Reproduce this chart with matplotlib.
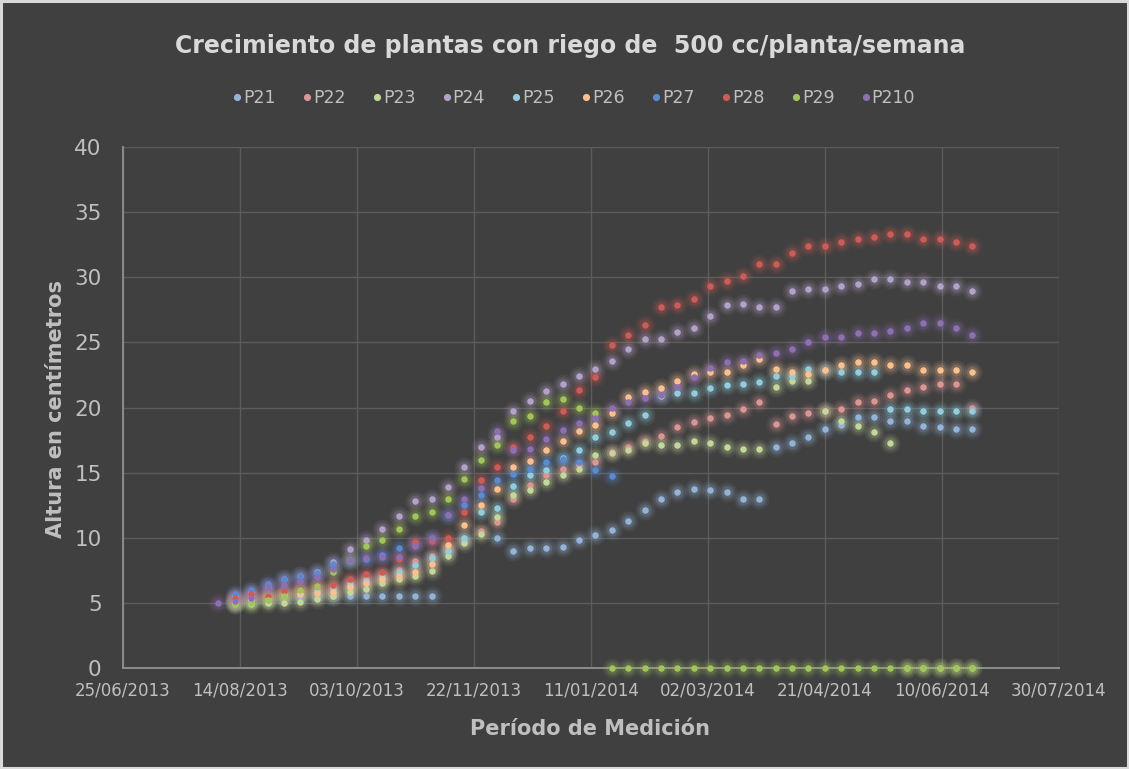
import numpy as np
import matplotlib
matplotlib.use('Agg')
import matplotlib.pyplot as plt
import matplotlib.dates as mdates
from matplotlib.patches import Rectangle
import pandas as pd

nan = np.nan

# Fechas de medición (semanales)
fechas = [
    "2013-08-05", "2013-08-12", "2013-08-19", "2013-08-26", "2013-09-02", "2013-09-09",
    "2013-09-16", "2013-09-23", "2013-09-30", "2013-10-07", "2013-10-14", "2013-10-21",
    "2013-10-28", "2013-11-04", "2013-11-11", "2013-11-18", "2013-11-25", "2013-12-02",
    "2013-12-09", "2013-12-16", "2013-12-23", "2013-12-30", "2014-01-06", "2014-01-13",
    "2014-01-20", "2014-01-27", "2014-02-03", "2014-02-10", "2014-02-17", "2014-02-24",
    "2014-03-03", "2014-03-10", "2014-03-17", "2014-03-24", "2014-03-31", "2014-04-07",
    "2014-04-14", "2014-04-21", "2014-04-28", "2014-05-05", "2014-05-12", "2014-05-19",
    "2014-05-26", "2014-06-02", "2014-06-09", "2014-06-16", "2014-06-23",
]

P21 = [nan, 5.2, 5.3, 5.4, 5.5, 5.5, 5.5, 5.5, 5.5, 5.5, 5.5, 5.5, 5.5, 5.5,
       nan, nan, nan,
       10.0, 9.0, 9.2, 9.25, 9.3, 9.8, 10.2, 10.6, 11.3, 12.1,
       12.95, 13.5, 13.75, 13.7, 13.5, 12.95, 12.95,
       16.95, 17.3, 17.7, 18.35, 18.65, 19.25, 19.25, 18.95, 18.95, 18.6, 18.5, 18.35, 18.35]

P22 = [nan, 5.3, 5.5, 5.55, 5.8, 6.0, 6.1, 6.3, 6.5, 6.8, 7.1,
       7.5, 8.2, 8.6, 9.1, 9.8, 10.5, 11.2, 12.95, 14.05, 14.8,
       15.3, 15.6, 15.85, 16.6, 17.0, 17.4, 17.85, 18.5, 18.9, 19.2,
       19.4, 19.85, 20.4, 18.7, 19.35, 19.55, 19.7, 19.9, 20.4, 20.5,
       20.95, 21.35, 21.55, 21.8, 21.8, 19.95]

P23 = [nan, 4.9, 4.95, 5.0, 5.0, 5.1, 5.3, 5.5, 5.8, 6.1, 6.5,
       6.8, 7.1, 7.45, 8.6, 9.6, 10.3, 11.6, 13.3, 13.7, 14.3,
       14.8, 15.25, 16.35, 16.5, 16.75, 17.3, 17.1, 17.1, 17.45, 17.25,
       16.95, 16.8, 16.8, 21.55, 22.0, 22.0, 19.75, 19.0, 18.6, 18.15,
       17.3, 0, 0, 0, 0, 0]

P24 = [nan, 5.5, 5.8, 6.2, 6.8, 7.1, 7.4, 8.1, 9.1, 9.8, 10.7,
       11.7, 12.8, 13.0, 13.9, 15.45, 16.95, 17.75, 19.75, 20.5, 21.25,
       21.8, 22.4, 22.95, 23.6, 24.5, 25.25, 25.25, 25.8, 26.1, 27.0,
       27.9, 27.93, 27.7, 27.7, 28.95, 29.1, 29.1, 29.3, 29.5, 29.9,
       29.9, 29.6, 29.6, 29.3, 29.3, 28.95]

P25 = [nan, 5.0, 5.2, 5.3, 5.5, 5.7, 5.9, 6.1, 6.4, 6.7, 7.0,
       7.4, 7.9, 8.45, 8.95, 10.0, 12.0, 12.3, 14.0, 14.8, 15.2,
       16.1, 16.7, 17.75, 18.15, 18.8, 19.4, 20.9, 21.1, 21.15, 21.5,
       21.7, 21.8, 21.95, 22.4, 22.4, 22.95, 22.9, 22.75, 22.75, 22.75,
       19.9, 19.9, 19.75, 19.75, 19.75, 19.7]

P26 = [nan, 5.1, 5.3, 5.5, 5.6, 5.7, 5.75, 5.8, 6.2, 6.55, 6.8,
       7.1, 7.4, 7.95, 9.45, 10.95, 12.5, 13.75, 15.4, 15.9, 16.75,
       17.4, 18.2, 18.65, 19.6, 20.8, 21.2, 21.5, 22.0, 22.55, 22.75,
       22.75, 23.3, 23.7, 22.95, 22.75, 22.6, 22.9, 23.3, 23.5, 23.5,
       23.3, 23.3, 22.9, 22.9, 22.9, 22.75]

P27 = [nan, 5.7, 6.0, 6.45, 6.8, 7.1, 7.3, 8.0, 8.2, 8.4, 8.7,
       9.2, 9.6, 10.0, 11.75, 12.5, 13.3, 14.4, 14.9, 15.3, 15.8,
       16.05, 15.8, 15.2, 14.75,
       nan, nan, nan, nan, nan, nan, nan, nan, nan, nan, nan,
       nan, nan, nan, nan, nan, nan, nan, nan, nan, nan, nan]

P28 = [nan, 5.35, 5.7, 5.55, 5.9, 6.1, 6.3, 6.4, 6.8, 7.2, 7.37,
       8.4, 9.64, 9.72, 10.0, 11.95, 14.4, 15.45, 16.95, 17.75, 18.6,
       19.7, 21.35, 22.35, 24.8, 25.6, 26.3, 27.7, 27.9, 28.3, 29.3,
       29.7, 30.1, 31.05, 31.05, 31.9, 32.4, 32.4, 32.7, 32.9, 33.1,
       33.3, 33.3, 32.9, 32.9, 32.7, 32.4]

P29 = [nan, 4.95, 5.0, 5.2, 5.5, 6.0, 6.3, 7.37, 8.3, 9.4, 9.8,
       10.7, 11.7, 12.0, 12.95, 14.5, 16.0, 17.1, 18.95, 19.35, 20.4,
       20.65, 19.95, 19.6,
       0, 0, 0, 0, 0, 0, 0, 0, 0, 0, 0, 0,
       0, 0, 0, 0, 0, 0, 0, 0, 0, 0, 0]

P210 = [5.0, 5.15, 5.4, 6.2, 6.4, 6.7, 7.0, 7.6, 8.3, 8.45, 8.5,
        8.5, 9.4, 10.0, 11.75, 13.0, 13.8, 18.2, 16.75, 16.8, 17.6,
        18.3, 18.8, 19.2, 20.0, 20.4, 20.75, 20.95, 21.6, 22.35, 23.0,
        23.5, 23.6, 24.0, 24.15, 24.5, 25.0, 25.4, 25.4, 25.7, 25.7,
        25.9, 26.1, 26.5, 26.5, 26.1, 25.6]

nombres = ["P21", "P22", "P23", "P24", "P25", "P26", "P27", "P28", "P29", "P210"]
valores = [P21, P22, P23, P24, P25, P26, P27, P28, P29, P210]
colores = ["#95b3d7", "#d99694", "#c3d69b", "#b3a2c7", "#93cddd",
           "#fac090", "#5a8ad0", "#cc5c58", "#a3c45c", "#8d70b0"]

titulo = "Crecimiento de plantas con riego de  500 cc/planta/semana"
etiqueta_x = "Período de Medición"
etiqueta_y = "Altura en centímetros"

FONT = ['DejaVu Sans']
plt.rcParams['font.family'] = FONT

W, H = 1129, 769
fig = plt.figure(figsize=(W / 100, H / 100), dpi=100)
fig.patch.set_facecolor('#404040')
fig.patches.append(Rectangle((1.2 / W, 1.2 / H), 1 - 2.4 / W, 1 - 2.4 / H,
                             transform=fig.transFigure, fill=False,
                             edgecolor='#d9d9d9', linewidth=2.2, zorder=10))

ax = fig.add_axes([122.5 / W, 1 - 668 / H, (1059 - 122.5) / W, (668 - 147) / H])
ax.set_facecolor('#404040')

x = mdates.date2num(pd.to_datetime(fechas))
handles = []
for nombre, vals, col in zip(nombres, valores, colores):
    v = np.array(vals, dtype=float)
    for ms, a in [(14.5, 0.08), (11.5, 0.11), (8.5, 0.18)]:
        ax.plot(x, v, ls='none', marker='o', ms=ms, mfc=col, mec='none',
                alpha=a, zorder=3, clip_on=False)
    h, = ax.plot(x, v, ls='none', marker='o', ms=4.7, mfc=col, mec='none',
                 zorder=4, label=nombre, clip_on=False)
    handles.append(h)

x0 = mdates.date2num(pd.Timestamp("2013-06-25"))
x1 = mdates.date2num(pd.Timestamp("2014-07-30"))
ax.set_xlim(x0, x1)
ax.set_ylim(0, 40)
ax.set_xticks(np.arange(x0, x1 + 1, 50))
ax.xaxis.set_major_formatter(mdates.DateFormatter('%d/%m/%Y'))
ax.set_yticks(np.arange(0, 41, 5))

ax.grid(True, color='#5c5c5c', lw=1.0, zorder=1)
ax.set_axisbelow(True)
for s in ['top', 'right']:
    ax.spines[s].set_visible(False)
for s in ['left', 'bottom']:
    ax.spines[s].set_color('#8c8c8c')
    ax.spines[s].set_linewidth(1.4)

ax.tick_params(axis='y', length=0, pad=15, labelsize=15.5, labelcolor='#bfbfbf')
ax.tick_params(axis='x', length=0, pad=10, labelsize=12, labelcolor='#bfbfbf')

fig.text(570 / W, 1 - 53.3 / H, titulo, ha='center', va='baseline',
         fontsize=17, fontweight='bold', color='#d9d9d9')
fig.text(590.5 / W, 1 - 735 / H, etiqueta_x, ha='center', va='baseline',
         fontsize=15, fontweight='bold', color='#bfbfbf')
fig.text(62.5 / W, 1 - 408.6 / H, etiqueta_y, ha='center', va='baseline',
         rotation=90, rotation_mode='anchor',
         fontsize=15, fontweight='bold', color='#bfbfbf')

leg = fig.legend(handles=handles, loc='center', bbox_to_anchor=(574 / W, 1 - 98 / H),
                 ncol=10, frameon=False, fontsize=12.5, labelcolor='#bfbfbf',
                 handletextpad=0.1, columnspacing=1.55, handlelength=0.5,
                 markerscale=1.1, borderaxespad=0)

fig.savefig('out.png', dpi=100, facecolor=fig.get_facecolor())
